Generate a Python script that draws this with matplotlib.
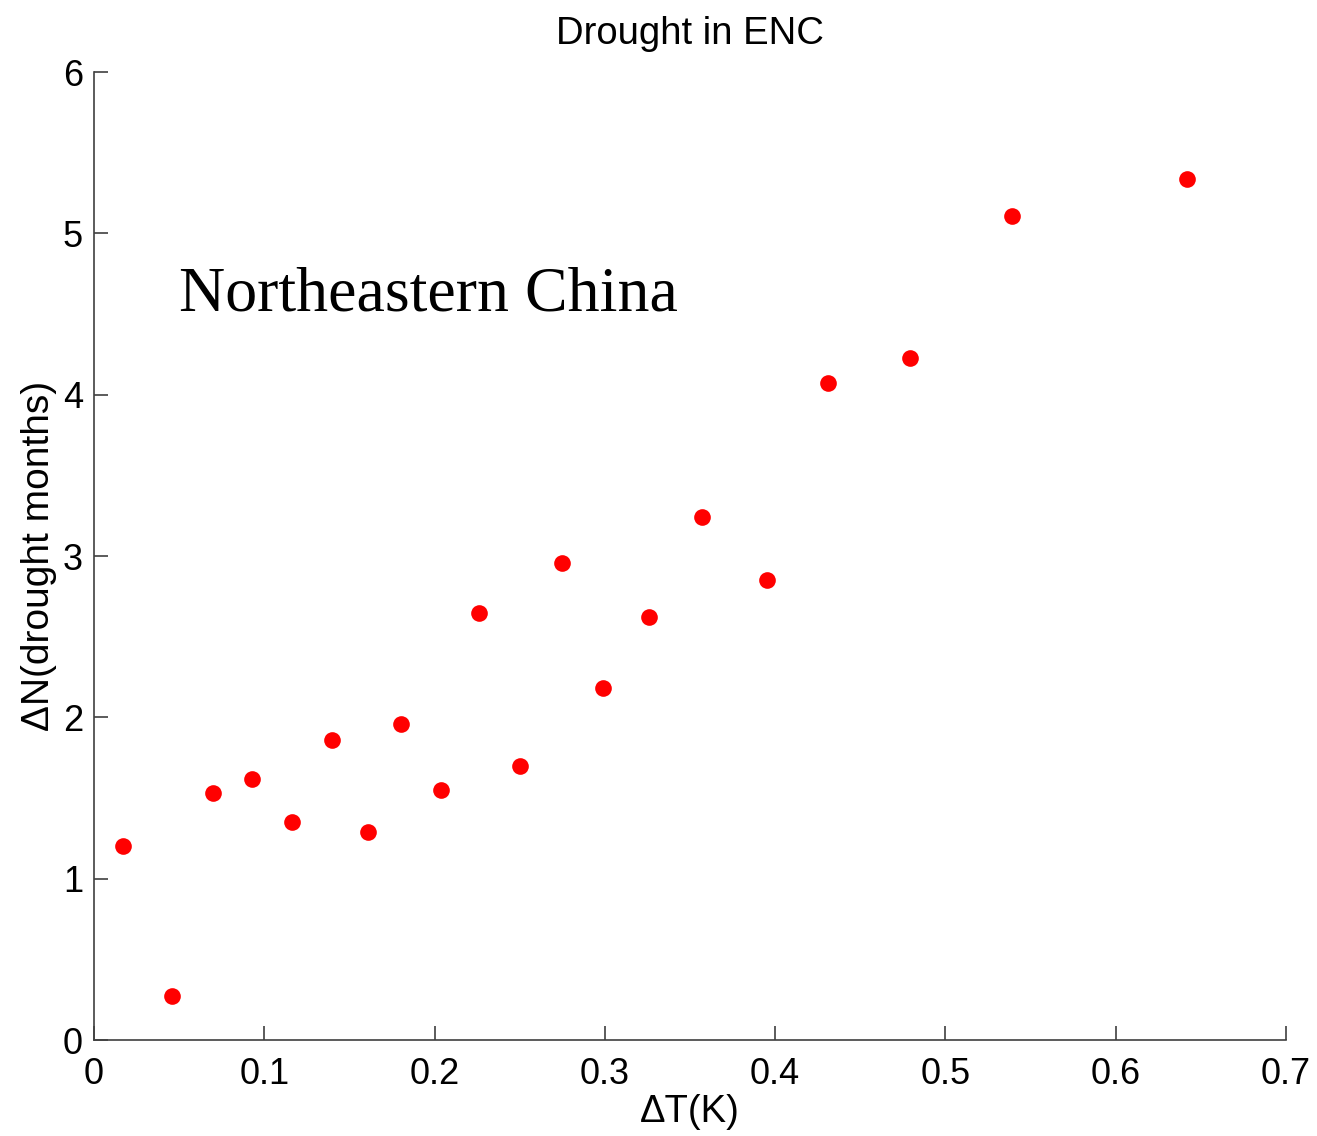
import matplotlib.pyplot as plt

# temperature change vs. change in drought months, ENC region
dT = [0.017, 0.046, 0.070, 0.093, 0.116, 0.140, 0.161, 0.180, 0.204, 0.226,
      0.250, 0.275, 0.299, 0.326, 0.357, 0.395, 0.431, 0.479, 0.539, 0.642]
dN = [1.20, 0.27, 1.53, 1.62, 1.35, 1.86, 1.29, 1.96, 1.55, 2.65,
      1.70, 2.96, 2.18, 2.62, 3.24, 2.85, 4.07, 4.23, 5.11, 5.34]

xticks = [0, 0.1, 0.2, 0.3, 0.4, 0.5, 0.6, 0.7]
xticklabels = ['0', '0.1', '0.2', '0.3', '0.4', '0.5', '0.6', '0.7']
yticks = [0, 1, 2, 3, 4, 5, 6]

plt.rcParams['font.family'] = ['Liberation Sans', 'DejaVu Sans']

fig = plt.figure(figsize=(13.17, 11.36), dpi=100)
ax = fig.add_axes([0.0714, 0.0845, 0.905, 0.852])

ax.plot(dT, dN, 'o', color='red', markersize=12, markeredgewidth=0)

ax.set_xlim(0, 0.7)
ax.set_ylim(0, 6)
ax.set_xticks(xticks)
ax.set_xticklabels(xticklabels)
ax.set_yticks(yticks)
ax.tick_params(direction='in', length=10, width=1.2, labelsize=26, color='#404040')
ax.tick_params(axis='x', pad=12)
ax.tick_params(axis='y', pad=8)
for side in ['top', 'right']:
    ax.spines[side].set_visible(False)
for side in ['left', 'bottom']:
    ax.spines[side].set_color('#404040')
    ax.spines[side].set_linewidth(1.2)

ax.set_title('Drought in ENC', fontsize=27.5, pad=20)
ax.set_xlabel('ΔT(K)', fontsize=27.5, labelpad=2)
ax.set_ylabel('ΔN(drought months)', fontsize=28, labelpad=4)

ax.text(0.05, 4.52, 'Northeastern China', family='Liberation Serif', fontsize=46)

fig.savefig('out.png', dpi=100)
